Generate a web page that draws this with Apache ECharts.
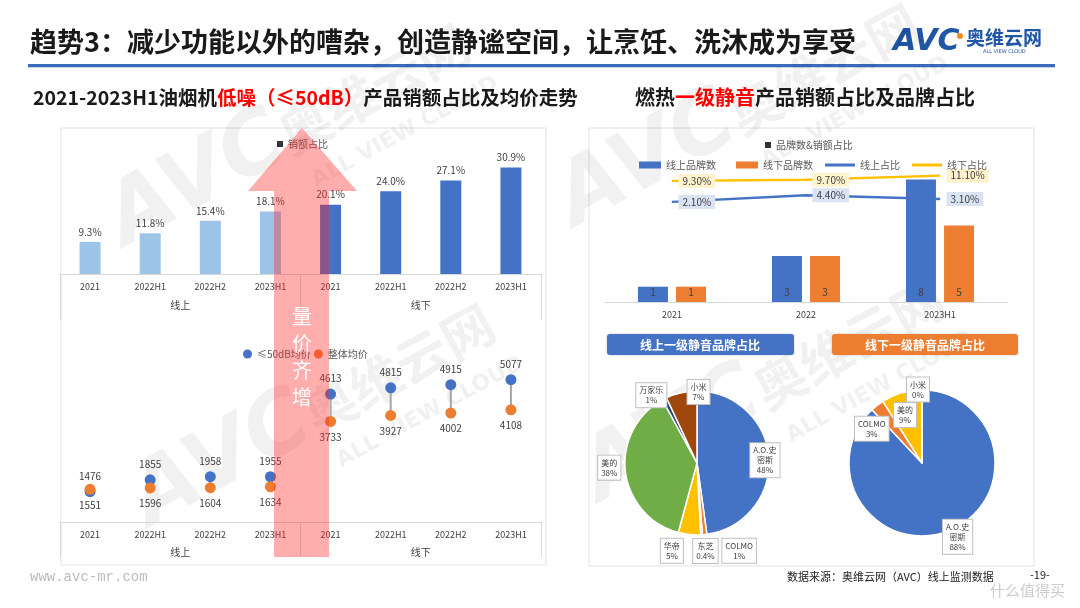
<!DOCTYPE html>
<html>
<head>
<meta charset="utf-8">
<script src="https://cdn.jsdelivr.net/npm/echarts@6/dist/echarts.min.js"></script>
<style>
  html, body { margin: 0; padding: 0; background: #fff; }
  #chart { width: 1080px; height: 608px; }
</style>
</head>
<body>
<div id="chart"></div>
<script>
// 油烟机低噪产品：销额占比与均价
const periods = ['2021', '2022H1', '2022H2', '2023H1', '2021', '2022H1', '2022H2', '2023H1'];
const channels = ['线上', '线下'];
const shareQuiet = [9.3, 11.8, 15.4, 18.1, 20.1, 24.0, 27.1, 30.9];
const priceQuiet = [1476, 1855, 1958, 1955, 4613, 4815, 4915, 5077];
const priceAll = [1551, 1596, 1604, 1634, 3733, 3927, 4002, 4108];

// 燃热一级静音：品牌数与销额占比
const years = ['2021', '2022', '2023H1'];
const brandsOnline = [1, 3, 8];
const brandsOffline = [1, 3, 5];
const shareOnline = [2.1, 4.4, 3.1];
const shareOffline = [9.3, 9.7, 11.1];

// 品牌占比
const onlineBrands = ['A.O.史密斯', 'COLMO', '东芝', '华帝', '美的', '万家乐', '小米'];
const onlineBrandShare = [48, 1, 0.4, 5, 38, 1, 7];
const offlineBrands = ['A.O.史密斯', 'COLMO', '美的', '小米'];
const offlineBrandShare = [88, 3, 9, 0];

const FONT = '"Noto Sans CJK SC", "Noto Sans", sans-serif';
const BLUE = '#4472C4', LBLUE = '#9DC3E6', ORANGE = '#ED7D31', YELLOW = '#FFC000';
const TXT = '#404040';

const onlineColors = [BLUE, ORANGE, '#A5A5A5', YELLOW, '#70AD47', '#264478', '#9E480E'];
const offlineColors = [BLUE, ORANGE, YELLOW, '#9E480E'];
// label nudges from the inside position
const onlineShift = [[29, 0], [38, 49], [6, 49], [-21, 49], [-49, 0], [-28, -33], [10, -33]];
const offlineShift = [[21, 37], [-26, -3], [-6, -10], [-4, -34]];

const chart = echarts.init(document.getElementById('chart'));

function pieLabel(p) {
  let n = p.name;
  if (n.length > 5) n = n.slice(0, 5) + '\n' + n.slice(5);
  return n + '\n' + p.value + '%';
}
const pieLabelStyle = {
  show: true, position: 'inside', formatter: pieLabel,
  fontSize: 8, lineHeight: 10, color: TXT,
  backgroundColor: '#fff', borderColor: '#BFBFBF', borderWidth: 1, padding: [2, 3]
};

function catAxis(grid, data, showLine) {
  return {
    type: 'category', gridIndex: grid, data: data,
    axisLine: { show: showLine, lineStyle: { color: '#D9D9D9' } },
    axisTick: { show: false },
    axisLabel: { fontSize: 9, color: TXT, margin: 8, interval: 0 }
  };
}
function groupAxis(grid, tickLen, margin) {
  return {
    type: 'category', gridIndex: grid, data: channels, position: 'bottom',
    axisLine: { show: false },
    axisTick: { show: true, length: tickLen, lineStyle: { color: '#D9D9D9' } },
    axisLabel: { fontSize: 10, color: TXT, margin: margin }
  };
}

function watermark(x, y) {
  const c = 'rgba(0,0,0,0.055)';
  return {
    type: 'group', x: x, y: y, rotation: 0.5, z: -5, silent: true,
    children: [
      { type: 'text', style: { x: 0, y: 0, text: 'AVC', fill: c, font: 'italic 900 86px "DejaVu Sans"', textVerticalAlign: 'bottom' } },
      { type: 'text', style: { x: 190, y: -14, text: '奥维云网', fill: c, font: 'bold 52px ' + FONT, textVerticalAlign: 'bottom' } },
      { type: 'text', style: { x: 196, y: 2, text: 'ALL VIEW CLOUD', fill: c, font: 'bold 22px "DejaVu Sans"', textVerticalAlign: 'top' } }
    ]
  };
}

const option = {
  backgroundColor: '#fff',
  animation: false,
  textStyle: { fontFamily: FONT },
  title: [
    {
      text: '趋势3：减少功能以外的嘈杂，创造静谧空间，让烹饪、洗沐成为享受',
      left: 30, top: 28, padding: 0,
      textStyle: { fontSize: 27, fontWeight: 'bold', color: '#1a1a1a' }
    },
    {
      text: '{a|2021-2023H1油烟机}{r|低噪（≤50dB）}{a|产品销额占比及均价走势}',
      left: 33, top: 88, padding: 0,
      textStyle: { rich: {
        a: { fontSize: 19.5, fontWeight: 'bold', color: '#1a1a1a' },
        r: { fontSize: 19.5, fontWeight: 'bold', color: '#FF0000' }
      } }
    },
    {
      text: '{a|燃热}{r|一级静音}{a|产品销额占比及品牌占比}',
      left: 635, top: 87, padding: 0,
      textStyle: { rich: {
        a: { fontSize: 20, fontWeight: 'bold', color: '#1a1a1a' },
        r: { fontSize: 20, fontWeight: 'bold', color: '#FF0000' }
      } }
    }
  ],
  legend: [
    {
      data: [{ name: '销额占比', itemStyle: { color: '#333' } }],
      left: 277, top: 139, padding: 0, icon: 'rect', itemWidth: 6, itemHeight: 6,
      textStyle: { fontSize: 10, color: '#595959' }
    },
    {
      data: ['≤50dB均价', '整体均价'],
      left: 243, top: 349, padding: 0, icon: 'circle', itemWidth: 9, itemHeight: 9, itemGap: 3,
      textStyle: { fontSize: 10, color: '#595959' }
    },
    {
      data: ['线上品牌数', '线下品牌数'],
      left: 639, top: 160, padding: 0, icon: 'rect', itemWidth: 22, itemHeight: 7, itemGap: 20,
      textStyle: { fontSize: 10, color: '#595959' }
    },
    {
      data: ['线上占比', '线下占比'],
      left: 825, top: 160, padding: 0, icon: 'rect', itemWidth: 30, itemHeight: 3, itemGap: 12,
      textStyle: { fontSize: 10, color: '#595959' }
    }
  ],
  grid: [
    { left: 60, width: 481, top: 136, height: 138 },
    { left: 60, width: 481, top: 351, height: 171 },
    { left: 605, width: 402, top: 149, height: 153 },
    { left: 605, width: 402, top: 173, height: 35 }
  ],
  xAxis: [
    catAxis(0, periods, true),
    groupAxis(0, 46, 26),
    catAxis(1, periods, true),
    groupAxis(1, 35, 25),
    catAxis(2, years, true),
    Object.assign(catAxis(3, years, false), { axisLabel: { show: false } })
  ],
  yAxis: [
    { type: 'value', gridIndex: 0, min: 0, max: 40, show: false },
    { type: 'value', gridIndex: 1, min: 500, max: 6000, show: false },
    { type: 'value', gridIndex: 2, min: 0, max: 10, show: false },
    { type: 'value', gridIndex: 3, min: 0, max: 12, show: false }
  ],
  series: [
    {
      name: '销额占比', type: 'bar', xAxisIndex: 0, yAxisIndex: 0,
      data: shareQuiet, barWidth: 21,
      itemStyle: { color: p => (p.dataIndex < 4 ? LBLUE : BLUE) },
      label: { show: true, position: 'top', distance: 5, fontSize: 10, color: TXT,
        formatter: p => p.value.toFixed(1) + '%' }
    },
    {
      name: 'link', type: 'custom', xAxisIndex: 2, yAxisIndex: 1, z: 1,
      data: priceQuiet.map((v, i) => [i, v, priceAll[i]]),
      encode: { x: 0, y: [1, 2] },
      renderItem: (params, api) => {
        const a = api.coord([api.value(0), api.value(1)]);
        const b = api.coord([api.value(0), api.value(2)]);
        return { type: 'line', shape: { x1: a[0], y1: a[1], x2: b[0], y2: b[1] },
          style: { stroke: '#A6A6A6', lineWidth: 2 } };
      }
    },
    {
      name: '≤50dB均价', type: 'scatter', xAxisIndex: 2, yAxisIndex: 1, z: 3,
      data: priceQuiet.map((v, i) => [i, v]), symbolSize: 11,
      itemStyle: { color: BLUE, opacity: 1 },
      label: { show: true, position: 'top', distance: 5, fontSize: 10, color: TXT,
        formatter: p => p.value[1] }
    },
    {
      name: '整体均价', type: 'scatter', xAxisIndex: 2, yAxisIndex: 1, z: 3,
      data: priceAll.map((v, i) => [i, v]), symbolSize: 11,
      itemStyle: { color: ORANGE, opacity: 1 },
      label: { show: true, position: 'bottom', distance: 5, fontSize: 10, color: TXT,
        formatter: p => p.value[1] }
    },
    {
      name: '线上品牌数', type: 'bar', xAxisIndex: 4, yAxisIndex: 2,
      data: brandsOnline, barWidth: 30, barGap: '27%', itemStyle: { color: BLUE },
      label: { show: true, position: 'insideBottom', distance: 5, fontSize: 10, color: TXT }
    },
    {
      name: '线下品牌数', type: 'bar', xAxisIndex: 4, yAxisIndex: 2,
      data: brandsOffline, barWidth: 30, barGap: '27%', itemStyle: { color: ORANGE },
      label: { show: true, position: 'insideBottom', distance: 5, fontSize: 10, color: TXT }
    },
    {
      name: '线上占比', type: 'line', xAxisIndex: 5, yAxisIndex: 3,
      data: shareOnline, symbol: 'circle', symbolSize: 1, color: BLUE,
      lineStyle: { width: 2.5, color: BLUE },
      label: { show: true, position: 'right', distance: 6, fontSize: 10, color: TXT,
        backgroundColor: '#DAE3F3', padding: [2, 4], formatter: p => p.value.toFixed(2) + '%' }
    },
    {
      name: '线下占比', type: 'line', xAxisIndex: 5, yAxisIndex: 3,
      data: shareOffline, symbol: 'circle', symbolSize: 1, color: YELLOW,
      lineStyle: { width: 2.5, color: YELLOW },
      label: { show: true, position: 'right', distance: 6, fontSize: 10, color: TXT,
        backgroundColor: '#FFF2CC', padding: [2, 4], formatter: p => p.value.toFixed(2) + '%' }
    },
    {
      name: '线上品牌占比', type: 'pie', center: [697, 463], radius: 72,
      startAngle: 90, clockwise: true,
      data: onlineBrands.map((n, i) => ({ name: n, value: onlineBrandShare[i], itemStyle: { color: onlineColors[i] } })),
      itemStyle: { borderColor: '#fff', borderWidth: 1.5 },
      label: pieLabelStyle, labelLine: { show: false },
      labelLayout: p => ({ dx: onlineShift[p.dataIndex][0], dy: onlineShift[p.dataIndex][1] })
    },
    {
      name: '线下品牌占比', type: 'pie', center: [922, 463], radius: 73,
      startAngle: 90, clockwise: true,
      data: offlineBrands.map((n, i) => ({ name: n, value: offlineBrandShare[i], itemStyle: { color: offlineColors[i] } })),
      itemStyle: { borderColor: '#fff', borderWidth: 1.5 },
      label: pieLabelStyle, labelLine: { show: false },
      labelLayout: p => ({ dx: offlineShift[p.dataIndex][0], dy: offlineShift[p.dataIndex][1] })
    }
  ],
  graphic: [
    // panels
    { type: 'rect', z: -10, silent: true, shape: { x: 61, y: 128, width: 485, height: 437 },
      style: { fill: 'none', stroke: '#DDE3EA', lineWidth: 1 } },
    { type: 'rect', z: -10, silent: true, shape: { x: 589, y: 128, width: 445, height: 438 },
      style: { fill: 'none', stroke: '#DDE3EA', lineWidth: 1 } },
    // header rule
    { type: 'rect', shape: { x: 28, y: 64, width: 1027, height: 3 }, style: { fill: '#3A6BBF' } },
    { type: 'rect', shape: { x: 28, y: 67, width: 1027, height: 1 }, style: { fill: '#C9D3E3' } },
    // logo
    { type: 'text', style: { x: 893, y: 42, text: 'AVC', fill: '#1F56A6', font: 'italic 900 30px "DejaVu Sans"', textVerticalAlign: 'middle' } },
    { type: 'circle', shape: { cx: 960, cy: 36, r: 3 }, style: { fill: '#F08A24' } },
    { type: 'text', style: { x: 966, y: 38, text: '奥维云网', fill: '#1F56A6', font: 'bold 19px ' + FONT, textVerticalAlign: 'middle' } },
    { type: 'text', style: { x: 983, y: 52, text: 'ALL VIEW CLOUD', fill: '#1F56A6', font: '5px "DejaVu Sans"', textVerticalAlign: 'middle' } },
    // watermarks
    watermark(135, 265), watermark(160, 545), watermark(585, 245), watermark(610, 520),
    // right chart heading
    { type: 'rect', shape: { x: 765, y: 142, width: 6, height: 6 }, style: { fill: '#333' } },
    { type: 'text', style: { x: 776, y: 145, text: '品牌数&销额占比', fill: '#595959', font: '10px ' + FONT, textVerticalAlign: 'middle' } },
    // pie headers
    { type: 'rect', shape: { x: 607, y: 334, width: 187, height: 21, r: 3 }, style: { fill: BLUE, shadowBlur: 3, shadowColor: 'rgba(0,0,0,0.2)' } },
    { type: 'text', style: { x: 700, y: 345, text: '线上一级静音品牌占比', fill: '#fff', font: 'bold 12px ' + FONT, textAlign: 'center', textVerticalAlign: 'middle' } },
    { type: 'rect', shape: { x: 832, y: 334, width: 186, height: 21, r: 3 }, style: { fill: ORANGE, shadowBlur: 3, shadowColor: 'rgba(0,0,0,0.2)' } },
    { type: 'text', style: { x: 925, y: 345, text: '线下一级静音品牌占比', fill: '#fff', font: 'bold 12px ' + FONT, textAlign: 'center', textVerticalAlign: 'middle' } },
    // arrow
    { type: 'polygon', z: 100, silent: true,
      shape: { points: [[274, 557], [274, 191], [248, 191], [302, 128], [357, 191], [329, 191], [329, 557]] },
      style: { fill: 'rgba(255,40,40,0.38)' } },
    { type: 'text', z: 101, style: { x: 302, y: 303, text: '量\n价\n齐\n增', fill: '#fff', font: '20px ' + FONT, lineHeight: 27, textAlign: 'center' } },
    // footer
    { type: 'text', style: { x: 30, y: 577, text: 'www.avc-mr.com', fill: '#BBBBBB', font: '14px "Liberation Mono"', textVerticalAlign: 'middle' } },
    { type: 'text', style: { x: 787, y: 577, text: '数据来源：奥维云网（AVC）线上监测数据', fill: '#222', font: '11px ' + FONT, textVerticalAlign: 'middle' } },
    { type: 'text', style: { x: 1030, y: 575, text: '-19-', fill: '#222', font: '11px ' + FONT, textVerticalAlign: 'middle' } },
    { type: 'text', style: { x: 990, y: 590, text: '什么值得买', fill: 'rgba(170,170,170,0.6)', font: '15px ' + FONT, textVerticalAlign: 'middle' } }
  ]
};

chart.setOption(option);
window.addEventListener('resize', () => chart.resize());
</script>
</body>
</html>
